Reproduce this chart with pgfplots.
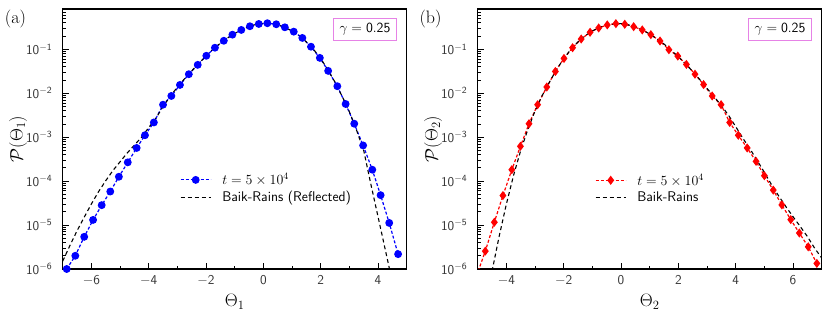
\RequirePackage{fix-cm}
\documentclass[border=0pt]{standalone}
\usepackage{pgfplots}
\pgfplotsset{compat=1.18}
\definecolor{boxviolet}{RGB}{230,130,230}
\pgfplotstableread{
x y
-6.86 1.0e-6
-6.56 2.0e-6
-6.25 5.4e-6
-5.94 1.31e-5
-5.64 2.84e-5
-5.34 5.8e-5
-5.04 1.26e-4
-4.73 2.68e-4
-4.42 5.7e-4
-4.13 1.11e-3
-3.82 2.17e-3
-3.50 5.5e-3
-3.21 8.7e-3
-2.91 0.0155
-2.60 0.0272
-2.29 0.0444
-1.99 0.0714
-1.69 0.109
-1.38 0.157
-1.08 0.216
-0.77 0.277
-0.47 0.336
-0.16 0.379
0.14 0.394
0.45 0.373
0.75 0.318
1.06 0.253
1.36 0.182
1.66 0.115
1.97 0.064
2.26 0.0324
2.58 0.0145
2.87 5.7e-3
3.17 2.03e-3
3.48 6.5e-4
3.80 1.82e-4
4.09 4.8e-5
4.39 1.12e-5
4.70 2.18e-6
}\dataA
\pgfplotstableread{
x y
-5.04 7.0e-7
-4.735 2.55e-6
-4.42 1.16e-5
-4.12 4.7e-5
-3.81 1.82e-4
-3.51 6.2e-4
-3.21 2.03e-3
-2.91 5.5e-3
-2.59 0.0139
-2.29 0.0314
-1.99 0.0622
-1.69 0.109
-1.39 0.172
-1.08 0.245
-0.78 0.307
-0.48 0.360
-0.18 0.385
0.13 0.373
0.44 0.329
0.74 0.277
1.04 0.216
1.36 0.155
1.67 0.098
1.98 0.0703
2.28 0.0454
2.58 0.0272
2.88 0.0158
3.18 8.7e-3
3.49 5.5e-3
3.79 2.17e-3
4.09 1.11e-3
4.40 5.7e-4
4.71 2.82e-4
5.00 1.33e-4
5.31 6.25e-5
5.61 2.88e-5
5.92 1.33e-5
6.22 6.6e-6
6.53 3.2e-6
6.83 1.34e-6
}\dataB
\pgfplotstableread{
x y
-4.5 8.9e-7
-4.25 5.6e-6
-4.0 3.0e-5
-3.75 1.35e-4
-3.5 5.0e-4
-3.25 1.51e-3
-3.0 3.98e-3
-2.75 8.9e-3
-2.5 0.0178
-2.25 0.0347
-2.0 0.0617
-1.75 0.100
-1.5 0.148
-1.25 0.204
-1.0 0.263
-0.75 0.316
-0.5 0.355
-0.25 0.380
0 0.385
0.25 0.363
0.5 0.324
0.75 0.275
1.0 0.224
1.25 0.174
1.5 0.132
1.75 0.0955
2.0 0.0676
2.25 0.0468
2.5 0.0316
2.75 0.0204
3.0 0.0129
3.25 8.3e-3
3.5 5.25e-3
3.75 3.16e-3
4.0 1.74e-3
4.25 9.5e-4
4.5 5.4e-4
4.75 2.95e-4
5.0 1.58e-4
5.25 8.3e-5
5.5 4.6e-5
5.75 2.63e-5
6.0 1.55e-5
6.25 9.3e-6
6.5 5.5e-6
6.75 3.0e-6
7.0 1.78e-6
}\brB
\pgfplotstableread{
x y
-7.0 1.51e-6
-6.75 3.4e-6
-6.5 7.4e-6
-6.25 1.51e-5
-6.0 3.02e-5
-5.75 5.75e-5
-5.5 1.02e-4
-5.25 1.74e-4
-5.0 2.75e-4
-4.75 4.37e-4
-4.5 6.6e-4
-4.25 1.0e-3
-4.0 1.66e-3
-3.75 2.69e-3
-3.5 5.0e-3
-3.25 8.5e-3
-3.0 0.0138
-2.75 0.0214
-2.5 0.0324
-2.25 0.0479
-2.0 0.0708
-1.75 0.102
-1.5 0.138
-1.25 0.182
-1.0 0.229
-0.75 0.282
-0.5 0.331
-0.25 0.372
0 0.389
0.25 0.389
0.5 0.363
0.75 0.316
1.0 0.263
1.25 0.204
1.5 0.148
1.75 0.100
2.0 0.0617
2.25 0.0347
2.5 0.0178
2.75 8.5e-3
3.0 3.8e-3
3.25 1.45e-3
3.5 5.0e-4
3.75 8.5e-5
4.0 1.55e-5
4.25 2.8e-6
4.5 5.0e-7
}\brA
\tikzset{
 dataline/.style={line width=1.2pt, dash pattern=on 3pt off 2pt},
 brline/.style={black, line width=1.1pt, dash pattern=on 4pt off 3pt},
}
\begin{document}
\begin{tikzpicture}[x=1pt,y=1pt]
\useasboundingbox (0,0) rectangle (830,312);
\begin{axis}[
  width=344pt, height=260pt, scale only axis, anchor=south west, at={(62.7pt,43pt)},
  ymode=log, ymin=1e-6, ymax=0.83,
  axis line style={line width=1.1pt},
  tick align=inside, xtick pos=bottom, ytick pos=left,
  major tick length=6pt, minor tick length=3.5pt,
  tick style={black, line width=0.9pt},
  minor x tick num=1,
  ytick={1e-6,1e-5,1e-4,1e-3,1e-2,1e-1},
  yticklabels={$\mathsf{10^{-6}}$,$\mathsf{10^{-5}}$,$\mathsf{10^{-4}}$,$\mathsf{10^{-3}}$,$\mathsf{10^{-2}}$,$\mathsf{10^{-1}}$},
  minor ytick={2e-6,3e-6,4e-6,5e-6,6e-6,7e-6,8e-6,9e-6,
   2e-5,3e-5,4e-5,5e-5,6e-5,7e-5,8e-5,9e-5,
   2e-4,3e-4,4e-4,5e-4,6e-4,7e-4,8e-4,9e-4,
   2e-3,3e-3,4e-3,5e-3,6e-3,7e-3,8e-3,9e-3,
   0.02,0.03,0.04,0.05,0.06,0.07,0.08,0.09,
   0.2,0.3,0.4,0.5,0.6,0.7,0.8},
  tick label style={font=\fontsize{13.5}{16}\selectfont, text=black!80},
  yticklabel style={xshift=-7pt},
  xticklabel style={yshift=-3pt},
  every axis x label/.style={at={(rel axis cs:0.5,0)}, anchor=center, yshift=-33pt, font=\fontsize{18}{21}\selectfont},
  every axis y label/.style={at={(rel axis cs:0,0.5)}, anchor=center, xshift=-44.7pt, rotate=90, font=\fontsize{18}{21}\selectfont},
  legend style={draw=none, fill=none, font=\fontsize{14}{17}\selectfont\sffamily, row sep=1pt, column sep=9pt, anchor=west, at={(0.332,0.31)}},
  legend cell align=left,
  legend image code/.code={\draw[mark repeat=2,mark phase=2,#1] plot coordinates {(0pt,0pt) (15pt,0pt) (30pt,0pt)};},
  xmin=-7, xmax=5, xtick={-6,-4,-2,0,2,4},
  xticklabels={$\mathsf{-6}$,$\mathsf{-4}$,$\mathsf{-2}$,$\mathsf{0}$,$\mathsf{2}$,$\mathsf{4}$},
  xlabel={$\Theta_1$}, ylabel={$\mathcal{P}(\Theta_1)$}]
\addplot[blue, dataline, mark=*, mark size=3.3pt, mark options={solid}] table {\dataA};
\addlegendentry{$t=5\times10^4$}
\addplot[brline] table {\brA};
\addlegendentry{Baik-Rains (Reflected)}
\node[draw=boxviolet, line width=0.8pt, minimum width=63pt, minimum height=22pt, inner sep=0pt, font=\fontsize{14}{17}\selectfont] at (rel axis cs:0.879,0.923) {$\gamma=\mathsf{0.25}$};
\end{axis}
\begin{axis}[
  width=344pt, height=260pt, scale only axis, anchor=south west, at={(477.7pt,43pt)},
  ymode=log, ymin=1e-6, ymax=0.83,
  axis line style={line width=1.1pt},
  tick align=inside, xtick pos=bottom, ytick pos=left,
  major tick length=6pt, minor tick length=3.5pt,
  tick style={black, line width=0.9pt},
  minor x tick num=1,
  ytick={1e-6,1e-5,1e-4,1e-3,1e-2,1e-1},
  yticklabels={$\mathsf{10^{-6}}$,$\mathsf{10^{-5}}$,$\mathsf{10^{-4}}$,$\mathsf{10^{-3}}$,$\mathsf{10^{-2}}$,$\mathsf{10^{-1}}$},
  minor ytick={2e-6,3e-6,4e-6,5e-6,6e-6,7e-6,8e-6,9e-6,
   2e-5,3e-5,4e-5,5e-5,6e-5,7e-5,8e-5,9e-5,
   2e-4,3e-4,4e-4,5e-4,6e-4,7e-4,8e-4,9e-4,
   2e-3,3e-3,4e-3,5e-3,6e-3,7e-3,8e-3,9e-3,
   0.02,0.03,0.04,0.05,0.06,0.07,0.08,0.09,
   0.2,0.3,0.4,0.5,0.6,0.7,0.8},
  tick label style={font=\fontsize{13.5}{16}\selectfont, text=black!80},
  yticklabel style={xshift=-7pt},
  xticklabel style={yshift=-3pt},
  every axis x label/.style={at={(rel axis cs:0.5,0)}, anchor=center, yshift=-33pt, font=\fontsize{18}{21}\selectfont},
  every axis y label/.style={at={(rel axis cs:0,0.5)}, anchor=center, xshift=-44.7pt, rotate=90, font=\fontsize{18}{21}\selectfont},
  legend style={draw=none, fill=none, font=\fontsize{14}{17}\selectfont\sffamily, row sep=1pt, column sep=9pt, anchor=west, at={(0.332,0.31)}},
  legend cell align=left,
  legend image code/.code={\draw[mark repeat=2,mark phase=2,#1] plot coordinates {(0pt,0pt) (15pt,0pt) (30pt,0pt)};},
  xmin=-5, xmax=7, xtick={-4,-2,0,2,4,6},
  xticklabels={$\mathsf{-4}$,$\mathsf{-2}$,$\mathsf{0}$,$\mathsf{2}$,$\mathsf{4}$,$\mathsf{6}$},
  xlabel={$\Theta_2$}, ylabel={$\mathcal{P}(\Theta_2)$}]
\addplot[red, dataline, mark=diamond*, mark size=3.6pt, mark options={solid}] table {\dataB};
\addlegendentry{$t=5\times10^4$}
\addplot[brline] table {\brB};
\addlegendentry{Baik-Rains}
\node[draw=boxviolet, line width=0.8pt, minimum width=63pt, minimum height=22pt, inner sep=0pt, font=\fontsize{14}{17}\selectfont] at (rel axis cs:0.879,0.923) {$\gamma=\mathsf{0.25}$};
\end{axis}
\node[font=\fontsize{18}{21}\selectfont] at (15.5,292.5) {(a)};
\node[font=\fontsize{18}{21}\selectfont] at (430.5,292.5) {(b)};
\end{tikzpicture}
\end{document}
